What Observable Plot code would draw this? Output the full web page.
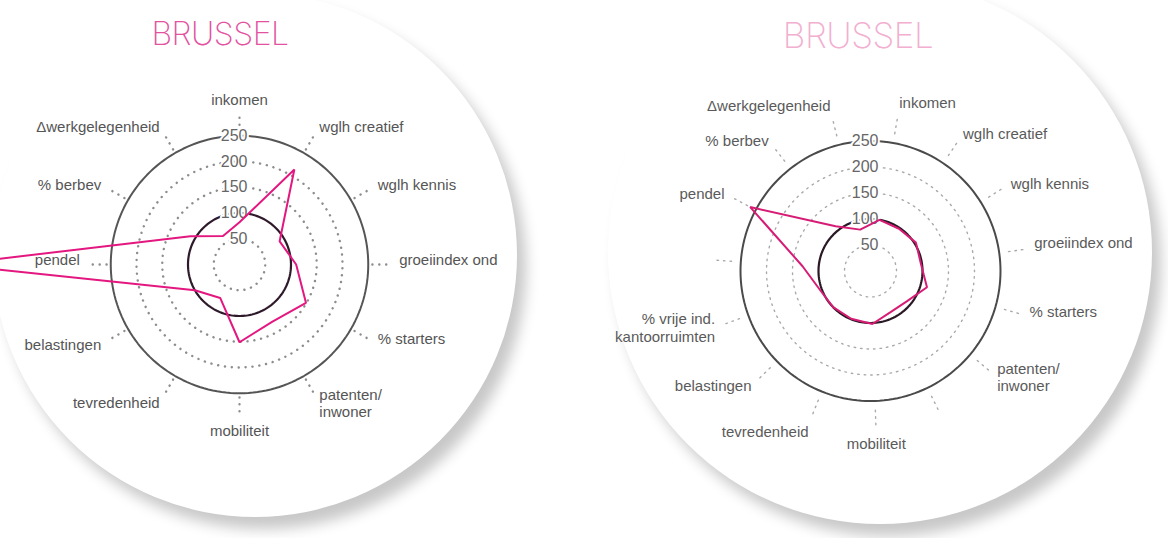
<!DOCTYPE html>
<html>
<head>
<meta charset="utf-8">
<script src="https://cdn.jsdelivr.net/npm/d3@7"></script>
<script src="https://cdn.jsdelivr.net/npm/@observablehq/plot@0.6"></script>
<style>
  html, body { margin: 0; padding: 0; background: #fff; }
  #page { position: relative; width: 1168px; height: 538px; overflow: hidden; background: #fff; }
  .disc { position: absolute; border-radius: 50%; background: #fff; box-shadow: 9px 12px 14px rgba(0,0,0,0.22); }
  .title { position: absolute; font-family: Inter, "Open Sans", sans-serif; font-weight: 200; line-height: 1; white-space: nowrap; transform: translateX(-50%); }
  .chart { position: absolute; top: 0; }
  .chart svg { background: transparent !important; overflow: visible; }
</style>
</head>
<body>
<div id="page">
  <div class="disc" style="left:-7px; top:-7px; width:524px; height:524px;"></div>
  <div class="disc" style="left:608px; top:-20px; width:544px; height:544px;"></div>
  <div id="title-left" class="title" style="left:220px; top:18px; font-size:32px; letter-spacing:-0.5px; color:#e2529f;"></div>
  <div id="title-right" class="title" style="left:858px; top:18px; font-size:35px; letter-spacing:-0.5px; color:#f2afd0;"></div>
  <div id="chart-left" class="chart" style="left:0px;"></div>
  <div id="chart-right" class="chart" style="left:584px;"></div>
</div>
<script>
// ---------- data ----------
const titles = ["BRUSSEL", "BRUSSEL"];

const axesLeft = [
  "inkomen", "wglh creatief", "wglh kennis", "groeiindex ond", "% starters",
  "patenten/\ninwoner", "mobiliteit", "tevredenheid", "belastingen", "pendel",
  "% berbev", "Δwerkgelegenheid"
];
const valuesLeft = [82, 213, 90, 110, 149, 128, 151, 75, 100, 560, 110, 64];

const axesRight = [
  "inkomen", "wglh creatief", "wglh kennis", "groeiindex ond", "% starters",
  "patenten/\ninwoner", "", "mobiliteit", "tevredenheid", "belastingen",
  "% vrije ind.\nkantoorruimten", "", "pendel", "% berbev", "Δwerkgelegenheid"
];
const valuesRight = [100, 98, 103, 98, 113, 91, 88, 102, 99, 100, 104, 131, 262, 109, 82];

const ringValues = [50, 100, 150, 200, 250];
const ringLabels = ["50", "100", "150", "200", "250"];

// ---------- drawing ----------
const rad = d => d * Math.PI / 180;
const X = d => d.r * Math.sin(d.a);
const Y = d => d.r * Math.cos(d.a);

function hAnchor(d) {
  const s = Math.sin(d.a);
  return s > 0.1 ? "start" : s < -0.1 ? "end" : "middle";
}
function vAnchor(d) {
  const s = Math.sin(d.a), c = Math.cos(d.a);
  if (c > 0.9) return "bottom";
  if (c < -0.9) return "top";
  if (s > 0 && c < 0.3 && c > -0.55) return "bottom";
  if (s < 0 && Math.abs(c) < 0.2) return "bottom";
  return "middle";
}

function radar(cfg) {
  const n = cfg.axes.length;
  const angle = i => rad(cfg.start + i * 360 / n);
  const poly = cfg.values.map((v, i) => ({r: v, a: angle(i)}));
  const ax = cfg.axes.map((name, i) => ({name, a: angle(i)}));
  const circle = r => d3.range(0, 361, 2).map(t => ({r, a: rad(t)}));
  const dotted = ringValues.filter(v => v !== 100 && v !== 250).flatMap(circle);
  const lab = ax.filter(d => d.name !== "").map(d => ({...d, r: cfg.labelR}));
  const labelMarks = [];
  for (const h of ["start", "middle", "end"]) {
    for (const v of ["bottom", "middle", "top"]) {
      labelMarks.push(Plot.text(lab, {
        filter: d => hAnchor(d) === h && vAnchor(d) === v,
        x: X, y: Y, text: "name", textAnchor: h, lineAnchor: v,
        fill: cfg.textColor, fontSize: cfg.fontSize, lineHeight: 1.15
      }));
    }
  }
  const k = cfg.k;
  return Plot.plot({
    width: 584, height: 538,
    x: {domain: [-250, 250], range: [cfg.cx - 250 * k, cfg.cx + 250 * k], axis: null},
    y: {domain: [-250, 250], range: [cfg.cy + 250 * k, cfg.cy - 250 * k], axis: null},
    style: {fontFamily: '"Liberation Sans", Arial, sans-serif', background: "transparent", overflow: "visible"},
    marks: [
      Plot.line(dotted, {x: X, y: Y, z: "r", stroke: cfg.dotColor, strokeWidth: cfg.dotWidth,
        strokeDasharray: cfg.dotDash, strokeLinecap: "round"}),
      Plot.link(ax, {x1: d => cfg.spoke[0] * Math.sin(d.a), y1: d => cfg.spoke[0] * Math.cos(d.a),
        x2: d => cfg.spoke[1] * Math.sin(d.a), y2: d => cfg.spoke[1] * Math.cos(d.a),
        stroke: cfg.dotColor, strokeWidth: cfg.dotWidth, strokeDasharray: cfg.dotDash, strokeLinecap: "round"}),
      Plot.line(circle(250), {x: X, y: Y, stroke: cfg.outerColor, strokeWidth: 2}),
      Plot.line(circle(100), {x: X, y: Y, stroke: cfg.innerColor, strokeWidth: 2.2}),
      Plot.text(ringValues, {x: 0, y: d => d, text: (d, i) => ringLabels[i], textAnchor: "end", dx: 8,
        fill: cfg.tickColor, stroke: "white", strokeWidth: 4, fontSize: 16}),
      ...labelMarks,
      Plot.line(poly, {x: X, y: Y, curve: "linear-closed", stroke: cfg.pink, strokeWidth: 2, strokeLinejoin: "miter"})
    ]
  });
}

document.getElementById("title-left").textContent = titles[0];
document.getElementById("title-right").textContent = titles[1];

document.getElementById("chart-left").append(radar({
  axes: axesLeft, values: valuesLeft, start: 0, cx: 239, cy: 264, k: 0.515,
  labelR: 310, spoke: [258, 292], pink: "#e3177f", innerColor: "#2e1a2a", outerColor: "#555",
  dotColor: "#8d8d8d", dotWidth: 2.4, dotDash: "0.1 6.8", tickColor: "#666", textColor: "#555", fontSize: 15
}));

document.getElementById("chart-right").append(radar({
  axes: axesRight, values: valuesRight, start: 10, cx: 286, cy: 270.5, k: 0.52,
  labelR: 318, spoke: [268, 298], pink: "#d61c74", innerColor: "#2a1825", outerColor: "#4a4a4a",
  dotColor: "#a9a9a9", dotWidth: 1.4, dotDash: "1.5 5", tickColor: "#666", textColor: "#5a5a5a", fontSize: 15
}));
</script>
</body>
</html>
